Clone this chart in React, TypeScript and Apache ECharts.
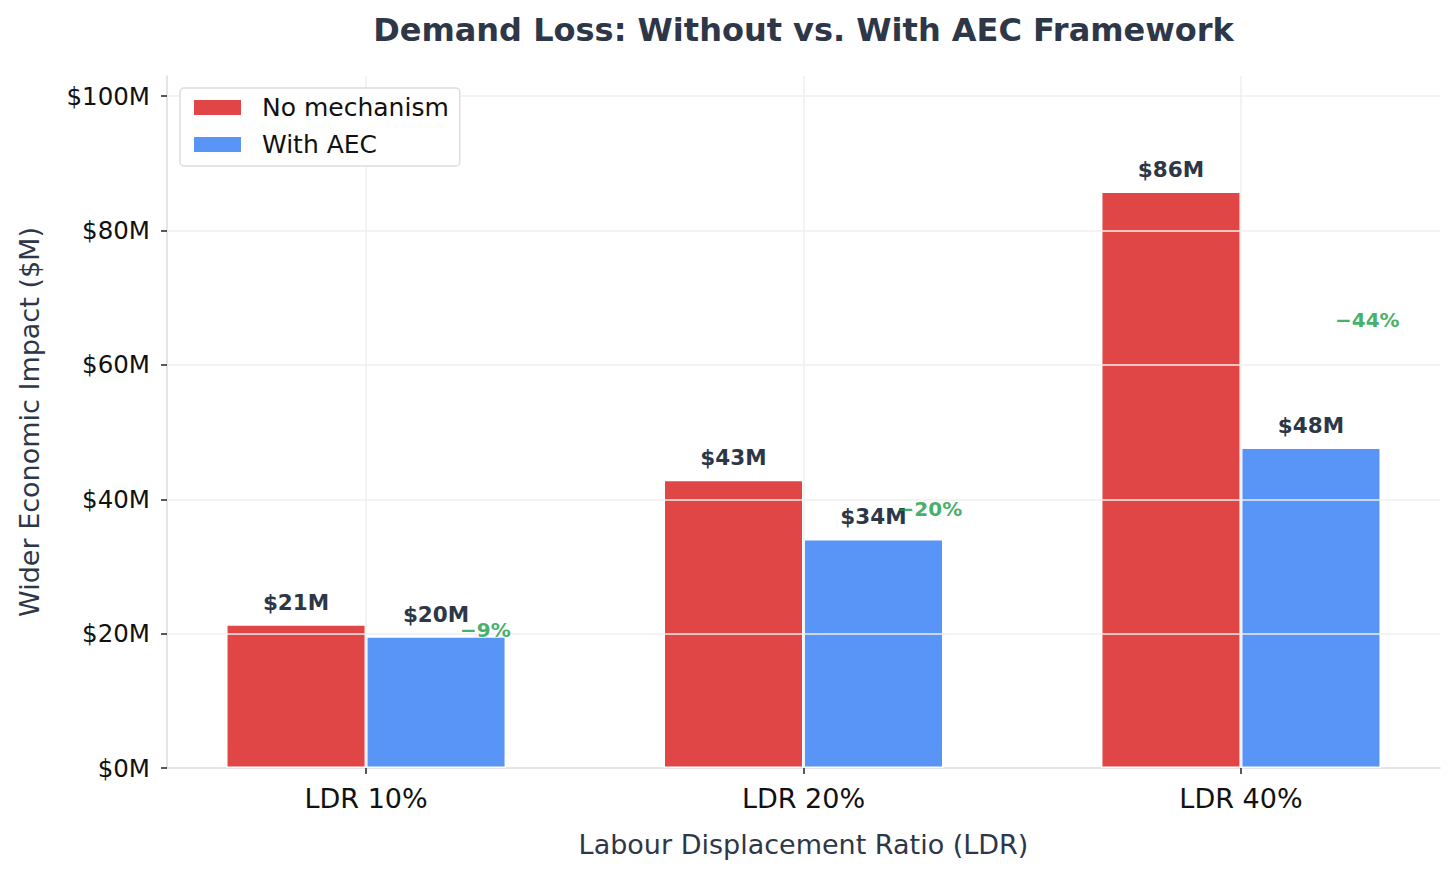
import * as echarts from "echarts";
import { useEffect, useRef } from "react";

const categories = ["LDR 10%", "LDR 20%", "LDR 40%"];
const noMechanism = [21.4, 42.9, 85.8];
const withAEC = [19.6, 34.1, 47.7];
const reductionLabels = ["−9%", "−20%", "−44%"];
const yTicks = [0, 20, 40, 60, 80, 100];
const xTicks = [0, 1, 2];

const FONT = "DejaVu Sans";
const SLATE = "#2d3748";

export default function App() {
  const chartRef = useRef<HTMLDivElement>(null);

  useEffect(() => {
    document.body.style.margin = "0";
    if (!chartRef.current) return;
    const chart = echarts.init(chartRef.current, null, { renderer: "svg" });

    const valueLabel = {
      show: true,
      position: "top",
      distance: 11,
      fontFamily: FONT,
      fontSize: 21.5,
      fontWeight: "bold",
      color: SLATE,
      formatter: (p: any) => `$${Math.round(p.value[1])}M`,
    };

    const option: echarts.EChartsOption = {
      animation: false,
      backgroundColor: "#ffffff",
      textStyle: { fontFamily: FONT },
      graphic: [
        {
          type: "text",
          x: 803.5,
          y: 30,
          style: {
            text: "Demand Loss: Without vs. With AEC Framework",
            font: `bold 32px "${FONT}"`,
            fill: SLATE,
            textAlign: "center",
            textVerticalAlign: "middle",
          },
        },
      ],
      legend: {
        z: 10,
        orient: "vertical",
        left: 180,
        top: 88,
        padding: [7, 11, 9, 12],
        icon: "rect",
        itemWidth: 49,
        itemHeight: 17,
        itemGap: 12,
        backgroundColor: "#ffffff",
        borderColor: "#dddddd",
        borderWidth: 1.5,
        borderRadius: 4,
        textStyle: {
          fontFamily: FONT,
          fontSize: 25,
          color: "#111111",
          padding: [0, 0, 0, 15],
        },
        data: ["No mechanism", "With AEC"],
      },
      grid: { left: 167, right: 16, top: 76, bottom: 110 },
      xAxis: {
        type: "value",
        min: -0.455,
        max: 2.455,
        name: "Labour Displacement Ratio (LDR)",
        nameLocation: "middle",
        nameGap: 63,
        nameTextStyle: { fontFamily: FONT, fontSize: 27, color: SLATE },
        axisLine: { show: true, onZero: false, lineStyle: { color: "#dddddd", width: 1.5 } },
        axisTick: {
          show: true,
          customValues: xTicks,
          length: 6,
          lineStyle: { color: "#222222", width: 1.5 },
        },
        axisLabel: {
          customValues: xTicks,
          margin: 17,
          fontFamily: FONT,
          fontSize: 27,
          color: "#111111",
          formatter: (v: number) => categories[Math.round(v)] ?? "",
        },
        splitLine: { show: false },
      },
      yAxis: {
        type: "value",
        min: 0,
        max: 103,
        name: "Wider Economic Impact ($M)",
        nameLocation: "middle",
        nameGap: 124,
        nameRotate: 90,
        nameTextStyle: { fontFamily: FONT, fontSize: 27, color: SLATE },
        axisLine: { show: true, onZero: false, lineStyle: { color: "#dddddd", width: 1.5 } },
        axisTick: {
          show: true,
          customValues: yTicks,
          length: 6,
          lineStyle: { color: "#222222", width: 1.5 },
        },
        axisLabel: {
          customValues: yTicks,
          margin: 17,
          fontFamily: FONT,
          fontSize: 24.5,
          color: "#111111",
          formatter: (v: number) => `$${v}M`,
        },
        splitLine: { show: false },
      },
      series: [
        {
          name: "No mechanism",
          type: "bar",
          barWidth: 140,
          barGap: "0%",
          data: noMechanism.map((v, i) => [i, v]),
          itemStyle: { color: "#e14646", borderColor: "#ffffff", borderWidth: 1.5 },
          label: valueLabel as any,
        },
        {
          name: "With AEC",
          type: "bar",
          barWidth: 140,
          barGap: "0%",
          data: withAEC.map((v, i) => [i, v]),
          itemStyle: { color: "#5895f7", borderColor: "#ffffff", borderWidth: 1.5 },
          label: valueLabel as any,
        },
        {
          name: "Reduction",
          type: "scatter",
          z: 6,
          symbolSize: 0,
          data: noMechanism.map((v, i) => [i + 0.215, (v + withAEC[i]) / 2]),
          label: {
            show: true,
            position: "right",
            distance: 0,
            align: "left",
            verticalAlign: "middle",
            fontFamily: FONT,
            fontSize: 20,
            fontWeight: "bold",
            color: "#139c42",
            formatter: (p: any) => reductionLabels[p.dataIndex],
          },
          markLine: {
            silent: true,
            symbol: "none",
            label: { show: false },
            lineStyle: { color: "#efefef", width: 1.5, type: "solid" },
            data: [
              ...yTicks.filter((t) => t > 0).map((t) => ({ yAxis: t })),
              ...xTicks.map((t) => ({ xAxis: t })),
            ],
          },
        },
      ],
    };

    chart.setOption(option);
    return () => chart.dispose();
  }, []);

  return <div ref={chartRef} style={{ width: 1456, height: 878 }} />;
}
